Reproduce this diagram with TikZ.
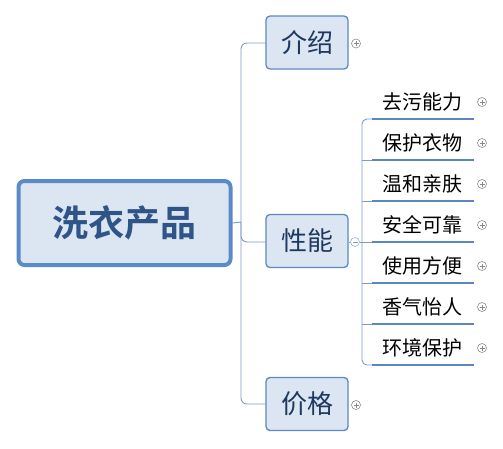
\documentclass[tikz,border=0pt]{standalone}
\usepackage{fontspec}
\newfontfamily\cjk{Noto Sans CJK SC}
\newfontfamily\cjkb{Noto Sans CJK SC Bold}
\definecolor{boxfill}{HTML}{DCE6F2}
\definecolor{rootborder}{HTML}{5A8AC8}
\definecolor{boxborder}{HTML}{5B89C0}
\definecolor{roottext}{HTML}{2E5488}
\definecolor{partext}{HTML}{1F3860}
\definecolor{connc}{HTML}{7C9CC4}
\definecolor{uline}{HTML}{5A87C0}
\definecolor{iconc}{HTML}{8A8A8A}
\tikzset{
  rootbox/.style={draw=rootborder, line width=4pt, fill=boxfill, rounded corners=6pt,
    minimum width=212pt, minimum height=84pt, inner sep=0pt,
    font=\cjkb\fontsize{36}{40}\selectfont, text=roottext},
  parbox/.style={draw=boxborder, line width=1.3pt, fill=boxfill, rounded corners=4pt,
    minimum width=82pt, minimum height=53pt, inner sep=0pt,
    font=\cjk\fontsize{26}{29}\selectfont, text=partext},
  childtext/.style={inner sep=0pt, font=\cjk\fontsize{20}{22}\selectfont, text=black},
  conn/.style={draw=connc, line width=0.9pt},
  ul/.style={draw=uline, line width=2.8pt},
  icon/.style={circle, draw=iconc, line width=0.6pt, minimum size=9pt, inner sep=0pt},
}
\newcommand{\plusicon}[2]{%
  \node[icon] (#1) at #2 {};
  \draw[iconc, line width=0.6pt] ([xshift=-2.5pt]#1.center) -- ([xshift=2.5pt]#1.center)
    ([yshift=-2.5pt]#1.center) -- ([yshift=2.5pt]#1.center);}
\begin{document}
\begin{tikzpicture}[x=1pt,y=-1pt]
\useasboundingbox (0,0) rectangle (503,448);
% root
\node[rootbox] (root) at (124.5,223) {洗衣产品};
% parents
\node[parbox] (jieshao) at (307,42.5) {介绍};
\node[parbox] (xingneng) at (307,241) {性能};
\node[parbox] (jiage) at (307,404) {价格};
% trunk
\coordinate (trunk) at (241,222);
\draw[conn, rounded corners=6pt] (jieshao.west |- 0,43) -| (trunk) |- (jiage.west |- 0,404);
\draw[conn] (root.east) -- (trunk);
\draw[conn, rounded corners=6pt] (trunk) |- (xingneng.west |- 0,242);
% icons on parents
\plusicon{p1}{(356,43.5)}
\plusicon{p3}{(356,405)}
\node[icon, draw=connc!80] (m2) at (355,242) {};
\draw[connc, line width=0.6pt] ([xshift=-2.5pt]m2.center) -- ([xshift=2.5pt]m2.center);
% children
\foreach \i/\t in {1/去污能力,2/保护衣物,3/温和亲肤,4/安全可靠,5/使用方便,6/香气怡人,7/环境保护}{
  \pgfmathsetmacro{\yy}{119+41*(\i-1)}
  \coordinate (u\i a) at (372,\yy);
  \coordinate (u\i b) at (474,\yy);
  \coordinate (s\i) at (362,\yy);
  \node[childtext] (c\i) at (422.5,\yy-17.5) {\t};
  \draw[ul] (u\i a) -- (u\i b);
  \plusicon{q\i}{(482,\yy-17)}
}
\draw[conn, rounded corners=5pt] (u1a) -| (s4) |- (u7a);
\draw[conn] (xingneng.east |- s4) -- (m2.west);
\draw[conn] (m2.east) -- (u4a);
\foreach \i in {2,3,5,6}{ \draw[conn] (s\i) -- (u\i a); }
\end{tikzpicture}
\end{document}
